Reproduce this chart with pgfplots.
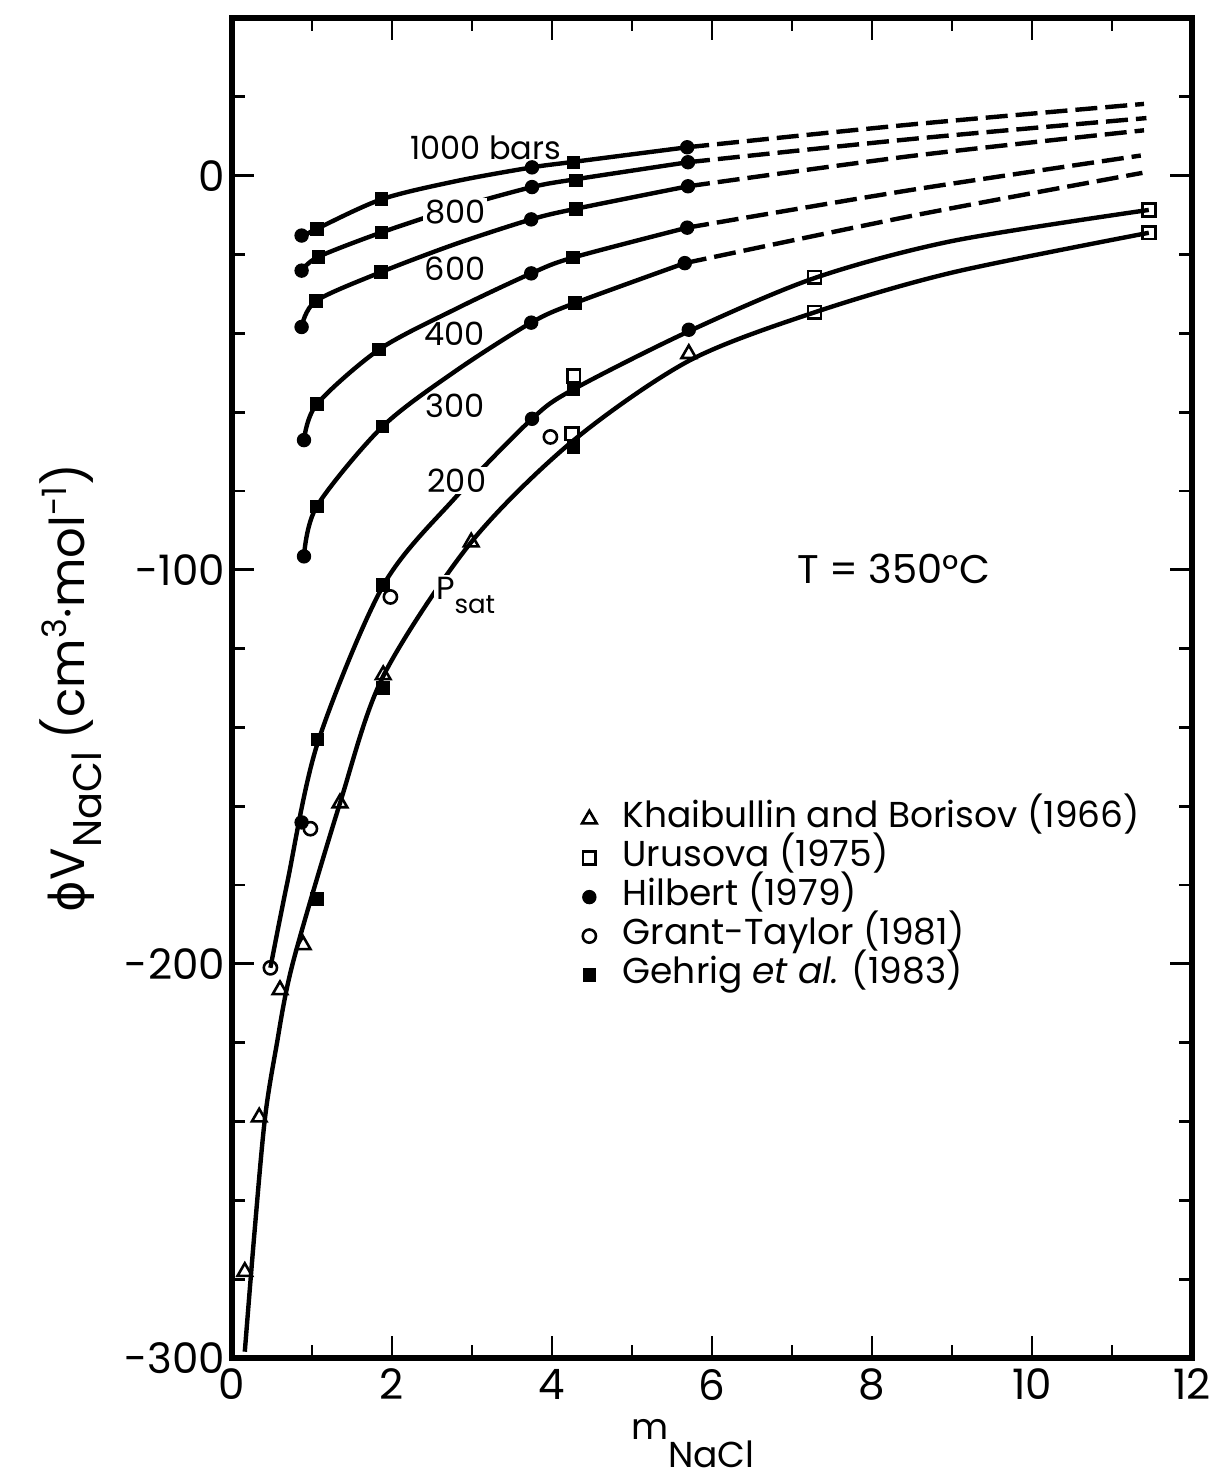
\documentclass[border=0pt]{standalone}
\usepackage{fontspec}
\setmainfont{Poppins}
\newfontfamily\greekf{DejaVu Sans}
\usepackage{pgfplots}
\pgfplotsset{compat=1.18}
\begin{document}
\begin{tikzpicture}
\begin{axis}[
  scale only axis, width=480pt, height=670pt,
  at={(0pt,0pt)}, anchor=south west,
  xmin=0, xmax=12, ymin=-300, ymax=40,
  axis line style={line width=2.6pt},
  xtick={0,2,4,6,8,10,12}, xticklabels={0,2,4,6,8,10,12},
  minor xtick={1,3,5,7,9,11},
  ytick={-300,-200,-100,0}, yticklabels={-300,-200,-100,0},
  minor ytick={-280,-260,-240,-220,-180,-160,-140,-120,-80,-60,-40,-20,20},
  major tick length=11pt, minor tick length=6.5pt,
  every tick/.style={black, line width=1.4pt},
  tick label style={font=\fontsize{21}{21}\selectfont},
  xticklabel style={yshift=-2pt},
  ylabel={{\greekf ϕ}V\raisebox{-0.35em}{\fontsize{20}{20}\selectfont NaCl} (cm\textsuperscript{3}·mol\textsuperscript{-1})},
  ylabel style={at={(axis description cs:-0.168,0.5)}, anchor=center, font=\fontsize{24}{24}\selectfont},
  xlabel={m\raisebox{-14pt}{NaCl}},
  xlabel style={at={(axis description cs:0.48,-0.064)}, anchor=center, font=\fontsize{18}{18}\selectfont},
  legend style={draw=none, fill=none, at={(axis description cs:0.358,0.42)}, anchor=north west,
    font=\fontsize{18}{18}\selectfont, row sep=0pt,
    nodes={inner xsep=2pt, inner ysep=0.5pt, text height=13.5pt, text depth=5pt},
    /tikz/every odd column/.append style={column sep=11pt}},
  legend cell align=left,
  every axis plot/.append style={line width=2.2pt},
]
% solid curves
\addplot[smooth, black, forget plot] coordinates {(0.87,-15.6)(1.06,-13.5)(1.87,-6.0)(2.8,-1.4)(3.75,2.1)(4.27,3.5)(5.69,7.2)};
\addplot[smooth, black, dash pattern=on 11pt off 4pt, forget plot] coordinates {(5.69,7.2)(8.5,13.0)(11.4,18.2)};
\addplot[smooth, black, forget plot] coordinates {(0.87,-24.1)(1.08,-20.6)(1.87,-14.4)(2.8,-8.2)(3.75,-2.9)(4.30,-0.9)(5.70,3.4)};
\addplot[smooth, black, dash pattern=on 11pt off 4pt, forget plot] coordinates {(5.70,3.4)(8.5,9.3)(11.43,14.6)};
\addplot[smooth, black, forget plot] coordinates {(0.87,-38.4)(1.05,-31.8)(1.86,-24.5)(2.8,-17.3)(3.74,-11.1)(4.30,-8.4)(5.70,-2.7)};
\addplot[smooth, black, dash pattern=on 11pt off 4pt, forget plot] coordinates {(5.70,-2.7)(8.5,5.0)(11.4,11.5)};
\addplot[smooth, black, forget plot] coordinates {(0.90,-67.1)(1.06,-58.0)(1.84,-44.1)(2.8,-33.8)(3.74,-24.8)(4.26,-20.8)(5.69,-13.2)};
\addplot[smooth, black, dash pattern=on 11pt off 4pt, forget plot] coordinates {(5.69,-13.2)(8.5,-3.6)(11.36,5.1)};
\addplot[smooth, black, forget plot] coordinates {(0.90,-96.6)(1.06,-83.9)(1.88,-63.7)(2.8,-49.5)(3.74,-37.3)(4.29,-32.3)(5.66,-22.2)};
\addplot[smooth, black, dash pattern=on 11pt off 4pt, forget plot] coordinates {(5.66,-22.2)(8.5,-10.2)(11.38,0.7)};
\addplot[smooth, black, forget plot] coordinates {(0.48,-201)(0.69,-179.5)(1.07,-144)(1.89,-104)(2.8,-81.5)(3.75,-61.7)(4.27,-54.2)(5.71,-39.5)(7.28,-26)(9.0,-16.6)(11.46,-8.7)};
\addplot[smooth, black, forget plot] coordinates {(0.16,-298.4)(0.28,-268.4)(0.41,-239.5)(0.55,-221.5)(0.76,-199.8)(1.35,-159.2)(1.89,-127)(2.99,-93)(4.25,-67.5)(5.71,-47)(7.28,-34.7)(9.0,-24.6)(11.46,-14.5)};
% labels
\node[font=\fontsize{16}{16}\selectfont] at (axis cs:3.17,7) {1000 bars};
\node[font=\fontsize{16}{16}\selectfont, fill=white, inner sep=1pt] at (axis cs:2.79,-9.2) {800};
\node[font=\fontsize{16}{16}\selectfont] at (axis cs:2.79,-23.5) {600};
\node[font=\fontsize{16}{16}\selectfont] at (axis cs:2.78,-40) {400};
\node[font=\fontsize{16}{16}\selectfont] at (axis cs:2.79,-58.5) {300};
\node[font=\fontsize{16}{16}\selectfont, fill=white, inner sep=1pt] at (axis cs:2.81,-77.4) {200};
\node[font=\fontsize{16}{16}\selectfont, fill=white, inner sep=1pt] at (axis cs:2.92,-106.5) {P\raisebox{-0.45em}{\fontsize{13}{13}\selectfont sat}};
\node[font=\fontsize{20}{20}\selectfont] at (axis cs:8.27,-99.7) {T = 350°C};
% data
\addplot[only marks, mark=triangle, mark size=4.2pt, mark options={line width=1.3pt, fill=white}] coordinates {(0.16,-278.1)(0.34,-238.9)(0.60,-206.6)(0.89,-195.2)(1.35,-159.2)(1.89,-126.7)(2.99,-93.0)(5.71,-45.2)};
\addlegendentry{Khaibullin and Borisov (1966)}
\addplot[only marks, mark=square, mark size=3.2pt, mark options={line width=1.3pt, fill=white}] coordinates {(4.27,-50.8)(4.25,-65.5)(7.28,-25.8)(7.28,-34.7)(11.46,-8.7)(11.46,-14.5)};
\addlegendentry{Urusova (1975)}
\addplot[only marks, mark=*, mark size=3.3pt, mark options={line width=0.6pt}] coordinates {(0.87,-15.2)(3.75,2.1)(5.69,7.2)(0.87,-24.1)(3.75,-2.9)(5.70,3.4)(0.87,-38.4)(3.74,-11.1)(5.70,-2.7)(0.90,-67.1)(3.74,-24.8)(5.69,-13.2)(0.90,-96.6)(3.74,-37.3)(5.66,-22.2)(0.87,-164.1)(3.75,-61.7)(5.71,-39.1)};
\addlegendentry{Hilbert (1979)}
\addplot[only marks, mark=o, mark size=3.3pt, mark options={line width=1.3pt, fill=white}] coordinates {(0.48,-201)(0.98,-165.7)(1.98,-106.9)(3.98,-66.3)};
\addlegendentry{Grant-Taylor (1981)}
\addplot[only marks, mark=square*, mark size=3.1pt, mark options={line width=0.6pt}] coordinates {(1.06,-13.5)(1.87,-6.0)(4.27,3.3)(1.08,-20.6)(1.87,-14.4)(4.30,-1.2)(1.05,-31.8)(1.86,-24.5)(4.30,-8.4)(1.06,-58.0)(1.84,-44.1)(4.26,-20.8)(1.06,-83.9)(1.88,-63.7)(4.29,-32.3)(1.07,-143.1)(1.89,-103.8)(4.27,-54.2)(1.06,-183.6)(1.89,-130)(4.27,-69.0)};
\addlegendentry{Gehrig \textit{et al.} (1983)}
\end{axis}
\path (-116pt,-62.5pt) rectangle (494pt,679pt);
\end{tikzpicture}
\end{document}
